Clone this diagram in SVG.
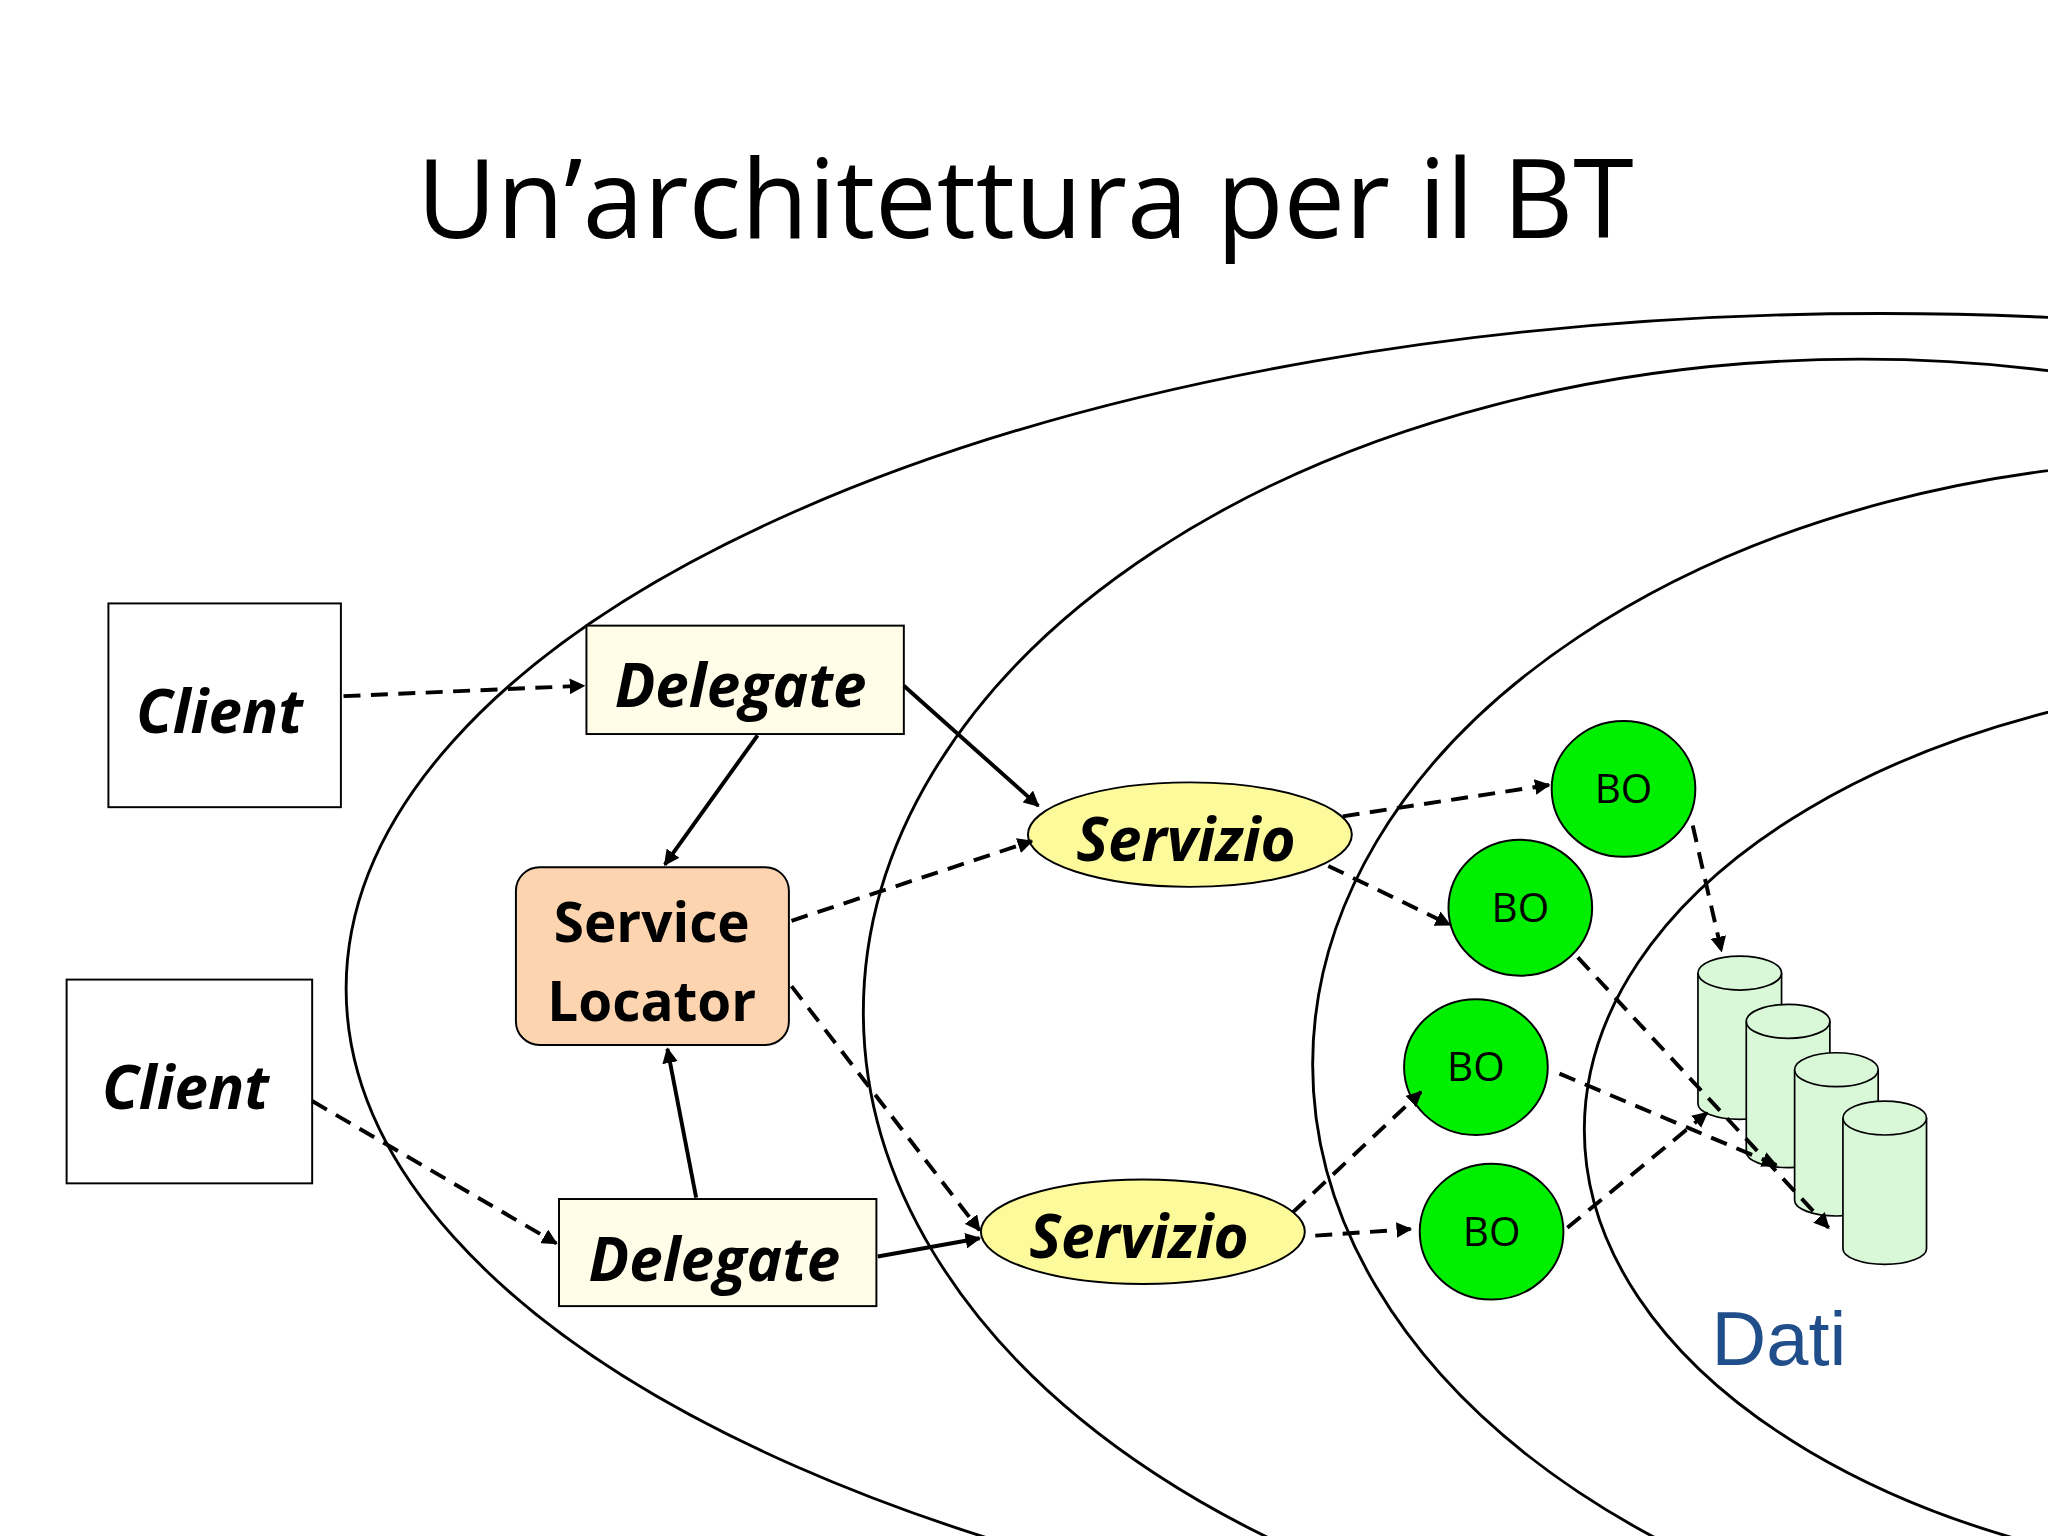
<svg xmlns="http://www.w3.org/2000/svg" width="2048" height="1536" viewBox="0 0 2048 1536">
<style>
.b{fill:#fff;stroke:#000;stroke-width:1.5}
.t{font-family:"Open Sans","Noto Sans",sans-serif;font-weight:bold;font-style:italic;font-size:46px;text-anchor:middle}
.sl{font-family:"Open Sans","Noto Sans",sans-serif;font-weight:bold;font-size:42px;text-anchor:middle}
.bo{fill:#00ee00;stroke:#000;stroke-width:1.5}
.bt{font-family:"Open Sans","Noto Sans",sans-serif;font-size:31px;text-anchor:middle}
.c{fill:#d8f8d8;stroke:#000;stroke-width:1.3}
.s{stroke:#000;stroke-width:3;fill:none;marker-end:url(#a)}
.d{stroke:#000;stroke-width:3;fill:none;stroke-dasharray:13 8;marker-end:url(#a)}
.e{fill:none;stroke:#000;stroke-width:2.2}
</style>
<defs><marker id="a" viewBox="0 0 10 10" refX="9" refY="5" markerWidth="4" markerHeight="4" orient="auto"><path d="M0,0L10,5L0,10z" fill="#000"/></marker></defs>
<rect width="2048" height="1536" fill="#fff"/>
<g transform="scale(1.30612)">
<text x="785" y="182" font-family="Open Sans, Noto Sans, sans-serif" font-size="84" text-anchor="middle">Un’architettura per il BT</text>
<g id="layers">
<ellipse class="e" cx="1440" cy="757" rx="1175" ry="517"/>
<ellipse class="e" cx="1425" cy="775" rx="764" ry="500"/>
<ellipse class="e" cx="1700" cy="815" rx="695" ry="463"/>
<ellipse class="e" cx="1800" cy="865" rx="587" ry="348"/>
</g>
<g id="client1"><rect class="b" x="83" y="462" width="178" height="156"/><text class="t" x="168" y="561">Client</text></g>
<g id="client2"><rect class="b" x="51" y="750" width="188" height="156"/><text class="t" x="142" y="849">Client</text></g>
<g id="delegate1"><rect class="b" style="fill:#fffde8" x="449" y="479" width="243" height="83"/><text class="t" x="567" y="541">Delegate</text></g>
<g id="delegate2"><rect class="b" style="fill:#fffde8" x="428" y="918" width="243" height="82"/><text class="t" x="547" y="981">Delegate</text></g>
<g id="locator"><rect class="b" style="fill:#fcd5b0" x="395" y="664" width="209" height="136" rx="18"/><text class="sl" x="499" y="721">Service</text><text class="sl" x="499" y="782">Locator</text></g>
<g id="servizio1"><ellipse class="b" style="fill:#fdfa9c" cx="911" cy="639" rx="124" ry="40"/><text class="t" x="908" y="659">Servizio</text></g>
<g id="servizio2"><ellipse class="b" style="fill:#fdfa9c" cx="875" cy="943" rx="124" ry="40"/><text class="t" x="872" y="963">Servizio</text></g>
<g id="bo1"><ellipse class="bo" cx="1243" cy="604" rx="55" ry="52"/><text class="bt" x="1243" y="615">BO</text></g>
<g id="bo2"><ellipse class="bo" cx="1164" cy="695" rx="55" ry="52"/><text class="bt" x="1164" y="706">BO</text></g>
<g id="bo3"><ellipse class="bo" cx="1130" cy="817" rx="55" ry="52"/><text class="bt" x="1130" y="828">BO</text></g>
<g id="bo4"><ellipse class="bo" cx="1142" cy="943" rx="55" ry="52"/><text class="bt" x="1142" y="954">BO</text></g>
<g id="dati">
<g class="c"><path d="M1300,745v100a32,12 0 0 0 64,0v-100"/><ellipse cx="1332" cy="745" rx="32" ry="13"/></g>
<g class="c"><path d="M1337,782v100a32,12 0 0 0 64,0v-100"/><ellipse cx="1369" cy="782" rx="32" ry="13"/></g>
<g class="c"><path d="M1374,819v100a32,12 0 0 0 64,0v-100"/><ellipse cx="1406" cy="819" rx="32" ry="13"/></g>
<g class="c"><path d="M1411,856v100a32,12 0 0 0 64,0v-100"/><ellipse cx="1443" cy="856" rx="32" ry="13"/></g>
<text x="1362" y="1045" font-family="Liberation Sans, Arial, sans-serif" font-size="58" fill="#1f4e8a" text-anchor="middle">Dati</text>
</g>
<g id="connectors">
<path class="d" d="M263,533L447,525"/>
<path class="s" d="M692,525L795,617"/>
<path class="s" d="M580,563L509,662"/>
<path class="d" d="M606,705L790,644"/>
<path class="d" d="M606,755L750,942"/>
<path class="s" d="M533,917L511,803"/>
<path class="d" d="M239,843L426,952"/>
<path class="s" d="M672,962L750,948"/>
<path class="d" d="M1028,625L1186,601"/>
<path class="d" d="M1017,663L1110,708"/>
<path class="d" d="M990,928L1088,836"/>
<path class="d" d="M1007,946L1080,941"/>
<path class="d" d="M1296,632L1318,728"/>
<path class="d" d="M1208,733L1400,940"/>
<path class="d" d="M1194,822L1360,892"/>
<path class="d" d="M1200,940L1307,852"/>
</g>
</g>
</svg>
